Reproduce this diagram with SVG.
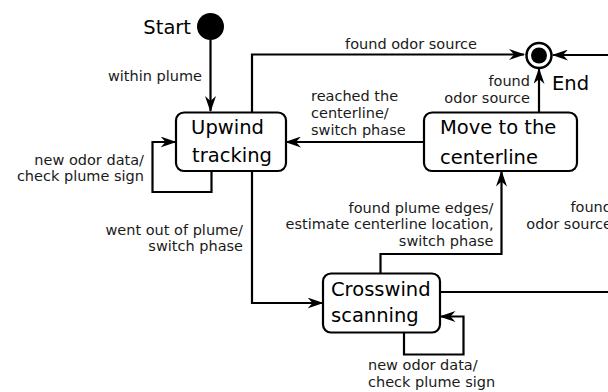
<svg xmlns="http://www.w3.org/2000/svg" width="608" height="392" viewBox="0 0 608 392">
<style>
.box{fill:#fff;stroke:#000;stroke-width:2.2}
.ln{fill:none;stroke:#000;stroke-width:2.2;stroke-linejoin:miter}
.arr{marker-end:url(#ah)}
.nt{font-family:"DejaVu Sans",sans-serif;font-size:19.5px;fill:#000}
.lb{font-family:"DejaVu Sans",sans-serif;font-size:14.5px;fill:#1a1a1a}
.e{text-anchor:end}
.m{text-anchor:middle}
</style>
<defs>
<marker id="ah" viewBox="0 0 16 11" refX="15" refY="5.5" markerWidth="16" markerHeight="11" markerUnits="userSpaceOnUse" orient="auto">
<path d="M0,0 L16,5.5 L0,11 L5,5.5 z" fill="#000"/>
</marker>
</defs>
<g id="connectors">
<path class="ln arr" d="M210.5,40 V111"/>
<path class="ln arr" d="M252,112 V54.5 H524"/>
<path class="ln arr" d="M608,55 H553"/>
<path class="ln arr" d="M539,112 V69"/>
<path class="ln arr" d="M424,142 H286"/>
<path class="ln arr" d="M211.5,171 V192 H152.5 V142 H175.5"/>
<path class="ln arr" d="M252,171 V303 H322.5"/>
<path class="ln arr" d="M380.5,273 V254 H501.5 V171.5"/>
<path class="ln" d="M440,292 H608"/>
<path class="ln arr" d="M404,333 V354.5 H463.5 V316.5 H440.5"/>
</g>
<g id="labels">
<text class="lb e" x="202" y="81">within plume</text>
<text class="lb m" x="411" y="49">found odor source</text>
<text class="lb e" x="530" y="86">found</text>
<text class="lb e" x="530" y="103">odor source</text>
<text class="lb" x="311" y="101">reached the</text>
<text class="lb" x="311" y="118">centerline/</text>
<text class="lb" x="311" y="134.5">switch phase</text>
<text class="lb e" x="144" y="164.5">new odor data/</text>
<text class="lb e" x="144" y="181">check plume sign</text>
<text class="lb e" x="243" y="234.5">went out of plume/</text>
<text class="lb e" x="243" y="251">switch phase</text>
<text class="lb e" x="493.5" y="212.5">found plume edges/</text>
<text class="lb e" x="493.5" y="229">estimate centerline location,</text>
<text class="lb e" x="493.5" y="245.5">switch phase</text>
<text class="lb e" x="612" y="212">found</text>
<text class="lb e" x="612" y="229">odor source</text>
<text class="lb" x="368" y="370">new odor data/</text>
<text class="lb" x="368" y="386.5">check plume sign</text>
</g>
<g id="start">
<circle cx="210.5" cy="26.5" r="13.5" fill="#000"/>
<text class="nt e" x="191" y="34">Start</text>
</g>
<g id="end">
<circle cx="539" cy="55.5" r="12.5" fill="#fff" stroke="#000" stroke-width="2.5"/>
<circle cx="539" cy="55.5" r="8" fill="#000"/>
<text class="nt" x="552" y="90">End</text>
</g>
<g id="upwind">
<rect class="box" x="176" y="112.5" width="110" height="58.5" rx="8"/>
<text class="nt m" x="227.5" y="133.5">Upwind</text>
<text class="nt m" x="232" y="161.5">tracking</text>
</g>
<g id="move">
<rect class="box" x="424" y="112.5" width="153" height="58.5" rx="8"/>
<text class="nt" x="440" y="133.5">Move to the</text>
<text class="nt" x="440" y="164">centerline</text>
</g>
<g id="crosswind">
<rect class="box" x="323" y="273.5" width="117" height="59" rx="8"/>
<text class="nt" x="331" y="295.5">Crosswind</text>
<text class="nt" x="331" y="322">scanning</text>
</g>
</svg>
